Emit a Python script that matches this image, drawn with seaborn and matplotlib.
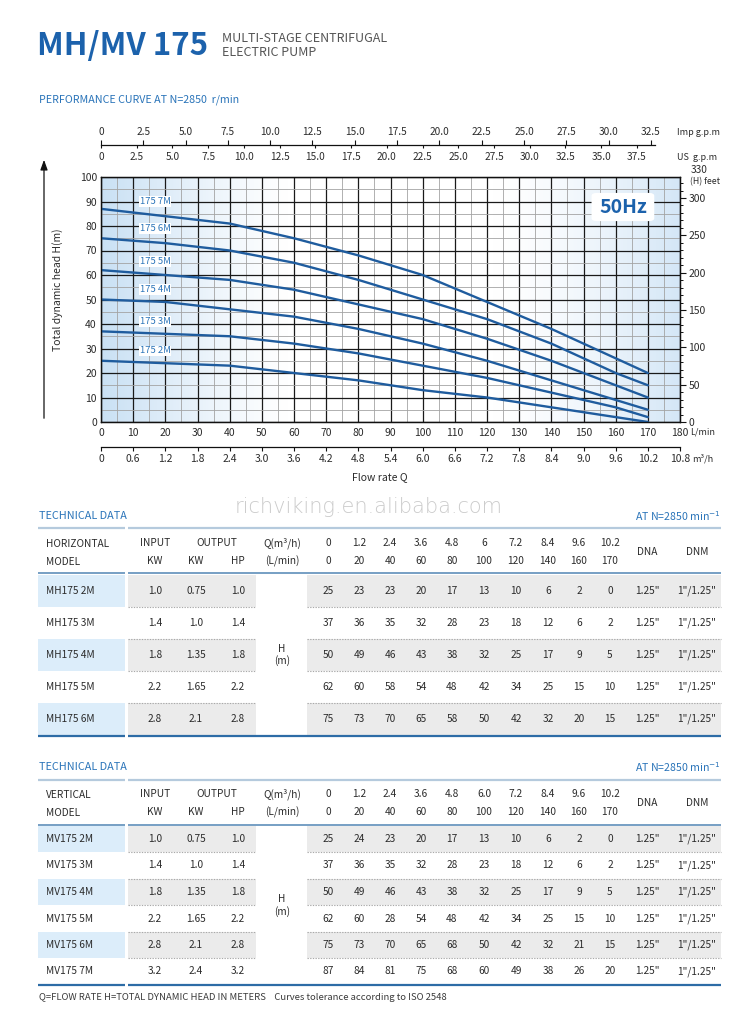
import numpy as np
import pandas as pd
import matplotlib
matplotlib.use("Agg")
import matplotlib.pyplot as plt
import matplotlib.ticker as mticker
from matplotlib.patches import FancyBboxPatch, Rectangle
import seaborn as sns

# ---------------- DATA ----------------
flow_lpm = [0, 20, 40, 60, 80, 100, 120, 140, 160, 170]
flow_m3h_h = ["0", "1.2", "2.4", "3.6", "4.8", "6", "7.2", "8.4", "9.6", "10.2"]
flow_m3h_v = ["0", "1.2", "2.4", "3.6", "4.8", "6.0", "7.2", "8.4", "9.6", "10.2"]

curve_labels = ["175 2M", "175 3M", "175 4M", "175 5M", "175 6M", "175 7M"]
curve_2m = [25, 24, 23, 20, 17, 13, 10, 6, 2, 0]
curve_3m = [37, 36, 35, 32, 28, 23, 18, 12, 6, 2]
curve_4m = [50, 49, 46, 43, 38, 32, 25, 17, 9, 5]
curve_5m = [62, 60, 58, 54, 48, 42, 34, 25, 15, 10]
curve_6m = [75, 73, 70, 65, 58, 50, 42, 32, 20, 15]
curve_7m = [87, 84, 81, 75, 68, 60, 49, 38, 26, 20]

lpm_ticks = list(range(0, 181, 10))
head_ticks = list(range(0, 101, 10))
feet_ticks = [0, 50, 100, 150, 200, 250, 300]
imp_gpm_ticks = [0, 2.5, 5.0, 7.5, 10.0, 12.5, 15.0, 17.5, 20.0, 22.5, 25.0, 27.5, 30.0, 32.5]
us_gpm_ticks = [0, 2.5, 5.0, 7.5, 10.0, 12.5, 15.0, 17.5, 20.0, 22.5, 25.0, 27.5, 30.0, 32.5, 35.0, 37.5]
m3h_ticks = [0, 0.6, 1.2, 1.8, 2.4, 3.0, 3.6, 4.2, 4.8, 5.4, 6.0, 6.6, 7.2, 7.8, 8.4, 9.0, 9.6, 10.2, 10.8]

h_models = ["MH175 2M", "MH175 3M", "MH175 4M", "MH175 5M", "MH175 6M"]
h_input_kw = ["1.0", "1.4", "1.8", "2.2", "2.8"]
h_output_kw = ["0.75", "1.0", "1.35", "1.65", "2.1"]
h_output_hp = ["1.0", "1.4", "1.8", "2.2", "2.8"]
h_heads = [
    [25, 23, 23, 20, 17, 13, 10, 6, 2, 0],
    [37, 36, 35, 32, 28, 23, 18, 12, 6, 2],
    [50, 49, 46, 43, 38, 32, 25, 17, 9, 5],
    [62, 60, 58, 54, 48, 42, 34, 25, 15, 10],
    [75, 73, 70, 65, 58, 50, 42, 32, 20, 15],
]

v_models = ["MV175 2M", "MV175 3M", "MV175 4M", "MV175 5M", "MV175 6M", "MV175 7M"]
v_input_kw = ["1.0", "1.4", "1.8", "2.2", "2.8", "3.2"]
v_output_kw = ["0.75", "1.0", "1.35", "1.65", "2.1", "2.4"]
v_output_hp = ["1.0", "1.4", "1.8", "2.2", "2.8", "3.2"]
v_heads = [
    [25, 24, 23, 20, 17, 13, 10, 6, 2, 0],
    [37, 36, 35, 32, 28, 23, 18, 12, 6, 2],
    [50, 49, 46, 43, 38, 32, 25, 17, 9, 5],
    [62, 60, 28, 54, 48, 42, 34, 25, 15, 10],
    [75, 73, 70, 65, 68, 50, 42, 32, 21, 15],
    [87, 84, 81, 75, 68, 60, 49, 38, 26, 20],
]
dna_size = '1.25"'
dnm_size = '1"/1.25"'

# ---------------- STYLE ----------------
sns.set_theme(style="ticks")
plt.rcParams['font.family'] = ['Noto Sans CJK SC', 'DejaVu Sans']
plt.rcParams['axes.unicode_minus'] = False

BLUE_T = "#1c62ac"
BLUE_C = "#1f5c9e"
BLUE_L = "#2a74b9"
TXT = "#2b2b2b"
W, H = 739, 1015

fig = plt.figure(figsize=(W / 100, H / 100), dpi=100)

# overlay axes in pixel coordinates
ov = fig.add_axes([0, 0, 1, 1], zorder=0)
ov.set_xlim(0, W)
ov.set_ylim(H, 0)
ov.set_axis_off()


def T(x, y, s, **kw):
    kw.setdefault("va", "center")
    kw.setdefault("color", TXT)
    return ov.text(x, y, s, **kw)


def hline(x0, x1, y, **kw):
    ov.plot([x0, x1], [y, y], solid_capstyle="butt", **kw)


# ---------- title ----------
T(37, 46, "MH/MV 175", fontsize=22.5, fontweight="bold", color=BLUE_T)
T(222, 38, "MULTI-STAGE CENTRIFUGAL", fontsize=9.0, color="#555555")
T(222, 52, "ELECTRIC PUMP", fontsize=9.0, color="#555555")
T(39, 100, "PERFORMANCE CURVE AT N=2850  r/min", fontsize=7.7, color=BLUE_L)

# ---------- main chart ----------
px0, px1, py_top, py_bot = 101, 680, 177, 422
ax = fig.add_axes([px0 / W, 1 - py_bot / H, (px1 - px0) / W, (py_bot - py_top) / H], zorder=2)

# gradient background
xs = np.linspace(0, 180, 400)
t = np.clip(1 - xs / 58, 0, 1) ** 1.2 * 1.0 + np.clip((xs - 122) / 58, 0, 1) ** 1.5 * 0.8
t = np.clip(t, 0, 1)
c_blue = np.array([0.79, 0.88, 0.958])
rgb = (1 - t)[:, None] * np.ones(3) + t[:, None] * c_blue
img = np.repeat(rgb[None, :, :], 2, axis=0)
ax.imshow(img, extent=[0, 180, 0, 100], aspect="auto", zorder=0, interpolation="bilinear")

ax.set_xlim(0, 180)
ax.set_ylim(0, 100)
ax.set_xticks(lpm_ticks)
ax.set_yticks(head_ticks)
ax.set_xticks(np.arange(5, 180, 10), minor=True)
ax.set_yticks(np.arange(5, 100, 10), minor=True)
ax.grid(which="major", color="#1a1a1a", lw=0.9)
ax.grid(which="minor", color="#a3a3a3", lw=0.6)
ax.set_axisbelow(True)
ax.tick_params(which="both", length=0)
ax.tick_params(axis="x", labelsize=7.5, pad=4, labelcolor=TXT)
ax.tick_params(axis="y", labelsize=7.5, pad=3, labelcolor=TXT)
for s in ax.spines.values():
    s.set_color("#111111")
    s.set_linewidth(0.9)

heads_all = [curve_2m, curve_3m, curve_4m, curve_5m, curve_6m, curve_7m]
df = pd.DataFrame({
    "Q": flow_lpm * len(curve_labels),
    "H": [h for row in heads_all for h in row],
    "model": [m for m in curve_labels for _ in flow_lpm],
})
sns.lineplot(data=df, x="Q", y="H", hue="model", palette=[BLUE_C] * len(curve_labels),
             lw=1.7, legend=False, ax=ax, estimator=None, sort=False, zorder=3)
ax.set_xlabel("")
ax.set_ylabel("")

label_y = [29, 41, 54, 65.5, 79, 90]
for lbl, ly in zip(curve_labels, label_y):
    ax.text(16.8, ly, lbl, ha="center", va="center", fontsize=6.8, color=BLUE_L, zorder=4,
            bbox=dict(fc="white", ec="none", pad=0.6))

ax.add_patch(FancyBboxPatch((152.5, 82.0), 19.5, 11.5,
                            boxstyle="round,pad=0,rounding_size=1.6", mutation_aspect=0.75,
                            fc="white", ec="none", zorder=4))
ax.text(162.3, 87.6, "50Hz", ha="center", va="center", fontsize=14, fontweight="bold",
        color=BLUE_T, zorder=5)

# right feet axis
axr = ax.twinx()
axr.set_ylim(0, 100 * 3.28084)
axr.set_yticks(feet_ticks)
axr.yaxis.set_minor_locator(mticker.MultipleLocator(10))
axr.tick_params(axis="y", which="major", direction="out", length=4, width=0.8,
                labelsize=7.5, pad=2, color="#111111", labelcolor=TXT)
axr.tick_params(axis="y", which="minor", direction="out", length=2.5, width=0.7, color="#111111")
axr.grid(False)
for s in axr.spines.values():
    s.set_color("#111111")
    s.set_linewidth(0.9)

# bottom m3/h scale
sec_m3 = ax.secondary_xaxis(-25 / 245, functions=(lambda x: x * 0.06, lambda x: x / 0.06))
sec_m3.set_xticks(m3h_ticks)
sec_m3.xaxis.set_major_formatter(mticker.FuncFormatter(lambda v, p: "0" if abs(v) < 1e-9 else f"{v:.1f}"))
sec_m3.tick_params(axis="x", direction="out", length=3, width=0.8, labelsize=7.5, pad=2,
                   color="#111111", labelcolor=TXT)
sec_m3.spines["bottom"].set_linewidth(0.9)
sec_m3.spines["bottom"].set_color("#111111")

# top gallon scales (own short baseline)
top_end_px = 655
lpm_end = (top_end_px - px0) / (px1 - px0) * 180
ax_top = fig.add_axes([px0 / W, 1 - 145 / H, (top_end_px - px0) / W, 0.00001], zorder=1)
ax_top.set_xlim(0, lpm_end)
ax_top.set_ylim(0, 1)
ax_top.set_xticks([])
ax_top.set_yticks([])
for s in ax_top.spines.values():
    s.set_visible(False)
ax_top.patch.set_alpha(0)

fmt1 = mticker.FuncFormatter(lambda v, p: "0" if abs(v) < 1e-9 else f"{v:.1f}")
sec_imp = ax_top.secondary_xaxis("top", functions=(lambda x: x / 5.26, lambda x: x * 5.26))
sec_imp.set_xticks(imp_gpm_ticks)
sec_imp.xaxis.set_major_formatter(fmt1)
sec_imp.tick_params(axis="x", direction="out", length=3.5, width=0.8, labelsize=7.3, pad=2,
                    color="#111111", labelcolor=TXT)
sec_imp.spines["top"].set_linewidth(0.9)
sec_imp.spines["top"].set_color("#111111")

sec_us = ax_top.secondary_xaxis("bottom", functions=(lambda x: x / 4.443, lambda x: x * 4.443))
sec_us.set_xticks(us_gpm_ticks)
sec_us.xaxis.set_major_formatter(fmt1)
sec_us.tick_params(axis="x", direction="out", length=2, width=0.8, labelsize=7.3, pad=3,
                   color="#111111", labelcolor=TXT)
sec_us.spines["bottom"].set_visible(False)

# axis annotations
T(677, 132, "Imp g.p.m", fontsize=6.5, ha="left")
T(677, 157, "US  g.p.m", fontsize=6.5, ha="left")
T(691, 170, "330", fontsize=7.3, ha="left")
T(690, 182, "(H) feet", fontsize=6.3, ha="left")
T(690, 432, "L/min", fontsize=6.5, ha="left")
T(692, 459, "m³/h", fontsize=6.5, ha="left")
T(380, 477, "Flow rate Q", fontsize=7.5, ha="center")
T(58, 290, "Total dynamic head H(m)", fontsize=7.5, ha="center", rotation=90)
ov.annotate("", xy=(44, 157), xytext=(44, 421),
            arrowprops=dict(arrowstyle="-|>,head_length=0.5,head_width=0.18", lw=0.9, color="#111111"))

# watermark
T(369, 507, "richviking.en.alibaba.com", fontsize=15, ha="center", color="#cbcbcb",
  family=["DejaVu Sans"], fontweight="light")

# ---------- tables ----------
col_vals_x = [328, 359, 390, 421, 452, 484, 516, 548, 579, 610]
X_MODEL, X_IN, X_OKW, X_OHP, X_Q, X_DNA, X_DNM = 46, 155, 196, 238, 282, 647, 697
SEG1 = (38, 125)
SEG2 = (128, 721)
GREY1 = (128, 256)
GREY2 = (307, 721)
FS = 7.3


def draw_table(title_y, top_y, hdr1_y, hdr2_y, hdr_line_y, row0_y, row_h, kind,
               models, inp, okw, ohp, heads, m3h_labels):
    T(39, title_y, "TECHNICAL DATA", fontsize=7.8, color=BLUE_L)
    T(721, title_y, r"AT N=2850 min$^{-1}$", fontsize=7.6, color=BLUE_L, ha="right")
    for a, b in (SEG1, SEG2):
        hline(a, b, top_y, color="#b5cadd", lw=1.6)
        hline(a, b, hdr_line_y, color="#5f8fba", lw=1.2)
    T(X_MODEL, hdr1_y + 1, kind, fontsize=FS, ha="left")
    T(X_MODEL, hdr2_y + 1, "MODEL", fontsize=FS, ha="left")
    T(X_IN, hdr1_y, "INPUT", fontsize=FS, ha="center")
    T(X_IN, hdr2_y, "KW", fontsize=FS, ha="center")
    T((X_OKW + X_OHP) / 2, hdr1_y, "OUTPUT", fontsize=FS, ha="center")
    T(X_OKW, hdr2_y, "KW", fontsize=FS, ha="center")
    T(X_OHP, hdr2_y, "HP", fontsize=FS, ha="center")
    T(X_Q, hdr1_y, "Q(m³/h)", fontsize=FS, ha="center")
    T(X_Q, hdr2_y, "(L/min)", fontsize=FS, ha="center")
    for x, m3, lpm in zip(col_vals_x, m3h_labels, flow_lpm):
        T(x, hdr1_y, m3, fontsize=FS, ha="center")
        T(x, hdr2_y, str(lpm), fontsize=FS, ha="center")
    T(X_DNA, (hdr1_y + hdr2_y) / 2, "DNA", fontsize=FS, ha="center")
    T(X_DNM, (hdr1_y + hdr2_y) / 2, "DNM", fontsize=FS, ha="center")

    n = len(models)
    for i in range(n):
        yc = row0_y + i * row_h
        y0 = yc - row_h / 2
        if i % 2 == 0:
            ov.add_patch(Rectangle((SEG1[0], y0), SEG1[1] - SEG1[0], row_h, fc="#dcedfa", ec="none", zorder=0))
            ov.add_patch(Rectangle((GREY1[0], y0), GREY1[1] - GREY1[0], row_h, fc="#ebebeb", ec="none", zorder=0))
            ov.add_patch(Rectangle((GREY2[0], y0), GREY2[1] - GREY2[0], row_h, fc="#ebebeb", ec="none", zorder=0))
        if i < n - 1:
            for a, b in (GREY1, GREY2):
                hline(a, b, yc + row_h / 2, color="#a9a9a9", lw=0.8, ls=(0, (1.2, 1.2)))
        T(X_MODEL, yc, models[i], fontsize=FS, ha="left")
        T(X_IN, yc, inp[i], fontsize=FS, ha="center")
        T(X_OKW, yc, okw[i], fontsize=FS, ha="center")
        T(X_OHP, yc, ohp[i], fontsize=FS, ha="center")
        for x, v in zip(col_vals_x, heads[i]):
            T(x, yc, str(v), fontsize=FS, ha="center")
        T(X_DNA, yc, dna_size, fontsize=FS, ha="center")
        T(X_DNM, yc, dnm_size, fontsize=FS, ha="center")
    bot = row0_y + (n - 1) * row_h + row_h / 2 + 0.5
    for a, b in (SEG1, SEG2):
        hline(a, b, bot, color="#2d6ca6", lw=1.6)
    mid = row0_y + (n - 1) * row_h / 2
    T(X_Q, mid - 6, "H", fontsize=FS, ha="center")
    T(X_Q, mid + 6, "(m)", fontsize=FS, ha="center")


draw_table(516, 528, 543, 561, 573, 591, 32, "HORIZONTAL",
           h_models, h_input_kw, h_output_kw, h_output_hp, h_heads, flow_m3h_h)
draw_table(767, 780, 794, 812, 825, 839, 26.5, "VERTICAL",
           v_models, v_input_kw, v_output_kw, v_output_hp, v_heads, flow_m3h_v)

T(39, 997, "Q=FLOW RATE H=TOTAL DYNAMIC HEAD IN METERS    Curves tolerance according to ISO 2548",
  fontsize=6.8, ha="left", color="#3a3a3a")

fig.savefig("out.png", dpi=100, facecolor="white")
